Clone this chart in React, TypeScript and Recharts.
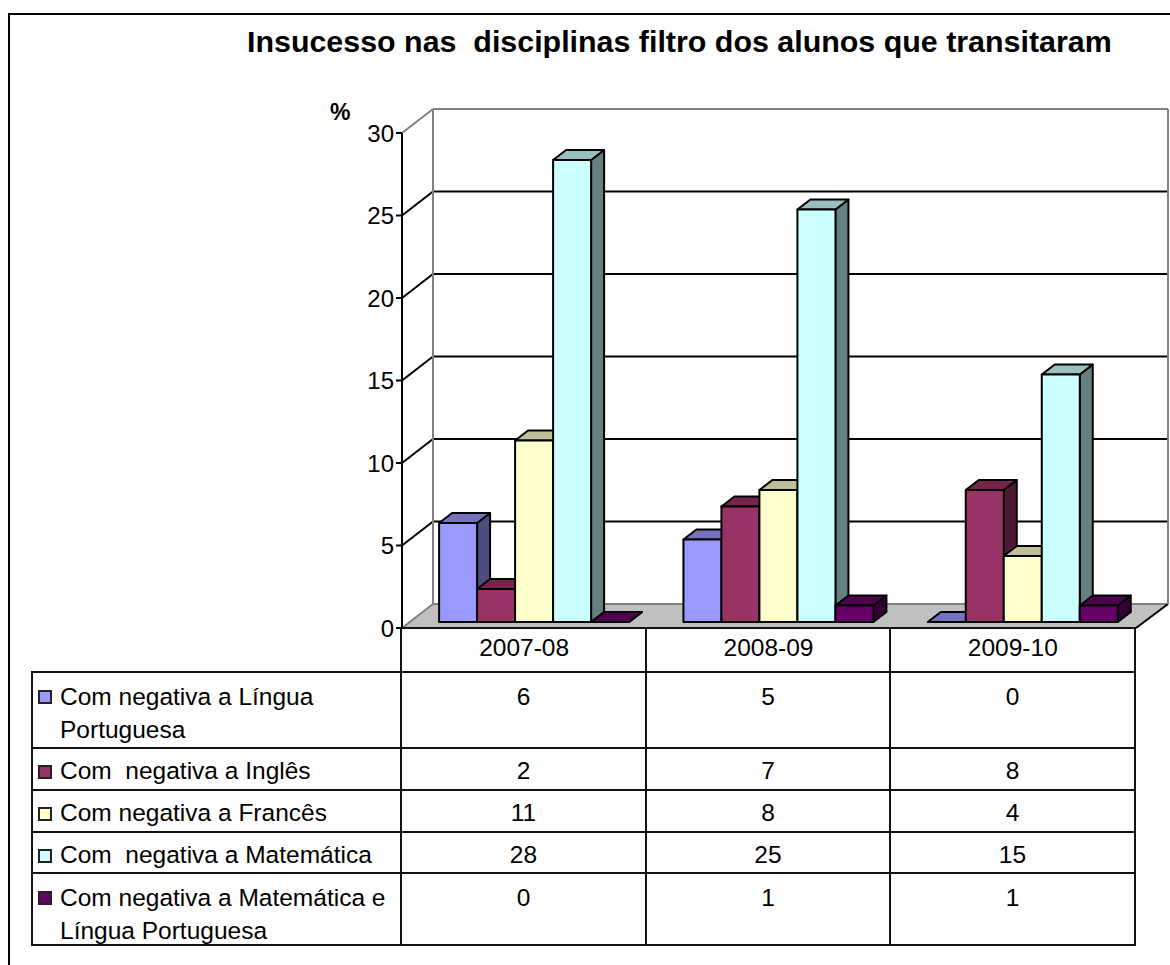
import { ComposedChart, Bar, XAxis, YAxis, CartesianGrid } from 'recharts'

const years = ['2007-08', '2008-09', '2009-10']
const linguaPortuguesa = [6, 5, 0]
const ingles = [2, 7, 8]
const frances = [11, 8, 4]
const matematica = [28, 25, 15]
const matematicaELingua = [0, 1, 1]
const yTicks = [0, 5, 10, 15, 20, 25, 30]

const seriesNames = [
  'Com negativa a Língua Portuguesa',
  'Com  negativa a Inglês',
  'Com negativa a Francês',
  'Com  negativa a Matemática',
  'Com negativa a Matemática e Língua Portuguesa',
]
const seriesValues = [linguaPortuguesa, ingles, frances, matematica, matematicaELingua]
// front, top and side faces of each 3D bar
const seriesColors = [
  ['#9999ff', '#7373bf', '#4d4d80'],
  ['#993366', '#732649', '#4d1933'],
  ['#ffffcc', '#bfbf99', '#808066'],
  ['#ccffff', '#99bfbf', '#668080'],
  ['#660066', '#4d004d', '#330033'],
]

const data = years.map((year, i) => ({
  year,
  s0: linguaPortuguesa[i],
  s1: ingles[i],
  s2: frances[i],
  s3: matematica[i],
  s4: matematicaELingua[i],
}))

const font = '"Liberation Sans", Arial, sans-serif'
const TEXT_SIZE = 24.5

// wall depth and the shift of the bars off the front plane
const WALL_DX = 31
const WALL_DY = -24
const BAR_DX = 9
const BAR_DY = -6
const BAR_DEPTH_X = 13
const BAR_DEPTH_Y = -10

const colX = [32, 401, 646, 890, 1135]
const rowY = [672, 748, 790, 832, 873, 945]

function makeBar(colors: string[]) {
  return function Bar3d(props: any) {
    const x = props.x + BAR_DX
    const y = props.y + BAR_DY
    const w = props.width
    const h = props.height
    const dx = BAR_DEPTH_X
    const dy = BAR_DEPTH_Y
    return (
      <g stroke="#000" strokeWidth={2} strokeLinejoin="round">
        <polygon
          points={`${x + w},${y} ${x + w + dx},${y + dy} ${x + w + dx},${y + h + dy} ${x + w},${y + h}`}
          fill={colors[2]}
        />
        <polygon
          points={`${x},${y} ${x + dx},${y + dy} ${x + w + dx},${y + dy} ${x + w},${y}`}
          fill={colors[1]}
        />
        {h > 0 && <rect x={x} y={y} width={w} height={h} fill={colors[0]} />}
      </g>
    )
  }
}

function wallLine(props: any) {
  const { x1, x2, y1, key } = props
  const isTop = Math.abs(y1 - 133) < 1
  const isFloor = Math.abs(y1 - 628) < 1
  const backY = y1 + WALL_DY
  const backL = x1 + WALL_DX
  const backR = x2 + WALL_DX + 2
  if (isFloor) {
    return (
      <g key={key}>
        <polygon points={`${x1},${y1} ${x2 + 1},${y1} ${backR},${backY} ${backL},${backY}`} fill="#c0c0c0" />
        <line x1={x1} y1={y1} x2={backL} y2={backY} stroke="#808080" strokeWidth={2} />
        <line x1={backL} y1={backY} x2={backR} y2={backY} stroke="#808080" strokeWidth={2} />
        <line x1={x2 + 1} y1={y1} x2={backR} y2={backY} stroke="#000" strokeWidth={2} />
      </g>
    )
  }
  const stroke = isTop ? '#808080' : '#000'
  return (
    <g key={key}>
      <line x1={x1} y1={y1} x2={backL} y2={backY} stroke={stroke} strokeWidth={2} />
      <line x1={backL} y1={backY} x2={backR} y2={backY} stroke={stroke} strokeWidth={2} />
      {isTop && (
        <>
          <line x1={backL} y1={backY} x2={backL} y2={backY + 495} stroke="#808080" strokeWidth={2} />
          <line x1={backR} y1={backY} x2={backR} y2={backY + 495} stroke="#808080" strokeWidth={2} />
        </>
      )}
    </g>
  )
}

function Cell({ col, row, children, pad = 0 }: any) {
  const top = row < 0 ? 628 : rowY[row]
  const bottom = rowY[row + 1]
  const tall = bottom - top > 60
  return (
    <div
      style={{
        position: 'absolute',
        boxSizing: 'border-box',
        left: colX[col] - 1,
        top: top - 1,
        width: colX[col + 1] - colX[col] + 2,
        height: bottom - top + 2,
        border: '2px solid #111',
        paddingTop: tall ? 7 : 5,
        paddingLeft: pad,
        textAlign: pad ? 'left' : 'center',
        whiteSpace: 'pre-wrap',
        lineHeight: '33px',
        fontSize: TEXT_SIZE,
      }}
    >
      {children}
    </div>
  )
}

export default function App() {
  return (
    <div style={{ position: 'fixed', left: 0, top: 0, width: 1170, height: 965, overflow: 'hidden', fontFamily: font, background: '#fff', color: '#000' }}>
      <div style={{ position: 'absolute', left: 8, top: 13, width: 1170, height: 960, borderLeft: '2px solid #000', borderTop: '2px solid #000' }} />
      <div style={{ position: 'absolute', left: 247, top: 24, fontWeight: 'bold', fontSize: 30.4, lineHeight: '34px', whiteSpace: 'pre' }}>
        Insucesso nas  disciplinas filtro dos alunos que transitaram
      </div>
      <div style={{ position: 'absolute', left: 330, top: 98, fontWeight: 'bold', fontSize: 23, lineHeight: '28px' }}>%</div>

      <div style={{ position: 'absolute', left: 0, top: 0 }}>
        <ComposedChart
          width={1170}
          height={965}
          data={data}
          barCategoryGap="11.5%"
          barGap={0}
          margin={{ top: 133, left: 342, right: 35, bottom: 292 }}
        >
          <CartesianGrid vertical={false} horizontal={wallLine} />
          <XAxis
            dataKey="year"
            height={45}
            tickLine={false}
            axisLine={{ stroke: '#000', strokeWidth: 2 }}
            tickMargin={5}
            interval={0}
            tick={{ fill: '#000', fontSize: TEXT_SIZE, fontFamily: font }}
          />
          <YAxis
            width={60}
            domain={[0, 30]}
            ticks={yTicks}
            interval={0}
            tickSize={6}
            tickLine={{ stroke: '#000', strokeWidth: 2 }}
            axisLine={{ stroke: '#000', strokeWidth: 2 }}
            tick={{ fill: '#000', fontSize: 24, fontFamily: font }}
          />
          {seriesColors.map((colors, i) => (
            <Bar key={i} dataKey={`s${i}`} fill={colors[0]} shape={makeBar(colors)} isAnimationActive={false} />
          ))}
        </ComposedChart>
      </div>

      {years.map((y, c) => (
        <Cell key={y} col={c + 1} row={-1} />
      ))}
      {seriesNames.map((name, r) => (
        <div key={name}>
          <Cell col={0} row={r} pad={27}>
            {name}
          </Cell>
          <div
            style={{
              position: 'absolute',
              boxSizing: 'border-box',
              left: 38,
              top: rowY[r] + (rowY[r + 1] - rowY[r] > 60 ? 18 : 17),
              width: 14,
              height: 14,
              background: seriesColors[r][0],
              border: '2px solid #222',
            }}
          />
          {seriesValues[r].map((v, c) => (
            <Cell key={c} col={c + 1} row={r}>
              {v}
            </Cell>
          ))}
        </div>
      ))}
    </div>
  )
}
